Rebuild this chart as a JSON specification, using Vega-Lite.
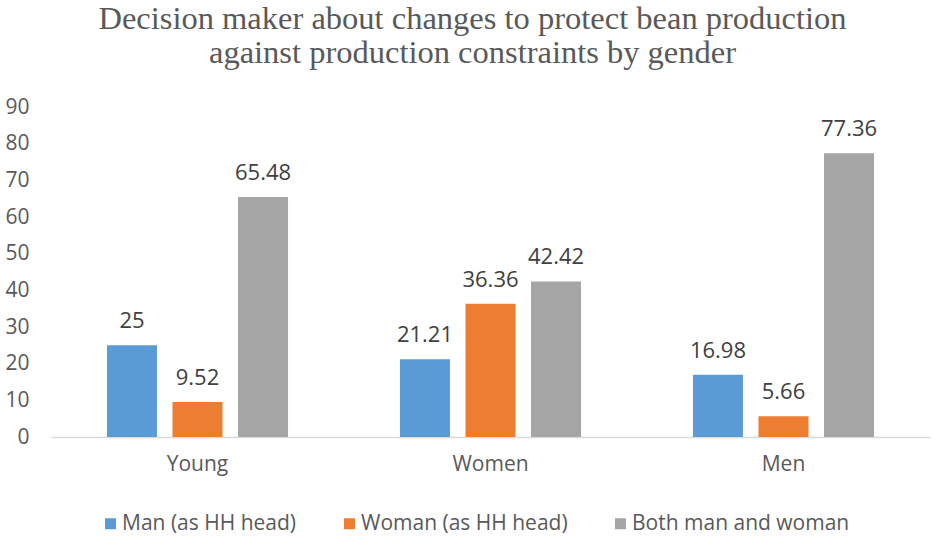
{
  "$schema": "https://vega.github.io/schema/vega-lite/v6.json",
  "autosize": {"type": "none"},
  "padding": {"left": 51, "top": 107, "right": 5, "bottom": 101},
  "width": 879,
  "height": 330,
  "background": "white",
  "title": {
    "text": ["Decision maker about changes to protect bean production", "against production constraints by gender"],
    "font": "Liberation Serif",
    "fontSize": 32.5,
    "fontWeight": "normal",
    "color": "#595959",
    "anchor": "middle",
    "dx": -18,
    "lineHeight": 34,
    "offset": 27
  },
  "data": {
    "values": [
      {"group": "Young", "series": "Man (as HH head)", "value": 25},
      {"group": "Young", "series": "Woman (as HH head)", "value": 9.52},
      {"group": "Young", "series": "Both man and woman", "value": 65.48},
      {"group": "Women", "series": "Man (as HH head)", "value": 21.21},
      {"group": "Women", "series": "Woman (as HH head)", "value": 36.36},
      {"group": "Women", "series": "Both man and woman", "value": 42.42},
      {"group": "Men", "series": "Man (as HH head)", "value": 16.98},
      {"group": "Men", "series": "Woman (as HH head)", "value": 5.66},
      {"group": "Men", "series": "Both man and woman", "value": 77.36}
    ]
  },
  "encoding": {
    "x": {
      "field": "group",
      "type": "nominal",
      "sort": ["Young", "Women", "Men"],
      "scale": {"paddingInner": 0.382, "paddingOuter": 0.191},
      "axis": {
        "title": null,
        "labelAngle": 0,
        "ticks": false,
        "domainColor": "#D9D9D9",
        "domainWidth": 1.5,
        "labelFont": "Open Sans",
        "labelFontSize": 21,
        "labelColor": "#595959",
        "labelPadding": 16
      }
    },
    "xOffset": {
      "field": "series",
      "type": "nominal",
      "sort": ["Man (as HH head)", "Woman (as HH head)", "Both man and woman"],
      "scale": {"paddingInner": 0.237, "paddingOuter": 0}
    },
    "y": {
      "field": "value",
      "type": "quantitative",
      "scale": {"domain": [0, 90], "nice": false},
      "axis": {
        "title": null,
        "values": [0, 10, 20, 30, 40, 50, 60, 70, 80, 90],
        "grid": false,
        "domain": false,
        "ticks": false,
        "labelPadding": 22,
        "labelFont": "Open Sans",
        "labelFontSize": 21,
        "labelColor": "#595959"
      }
    }
  },
  "layer": [
    {
      "mark": {"type": "bar"},
      "encoding": {
        "color": {
          "field": "series",
          "type": "nominal",
          "sort": ["Man (as HH head)", "Woman (as HH head)", "Both man and woman"],
          "scale": {
            "domain": ["Man (as HH head)", "Woman (as HH head)", "Both man and woman"],
            "range": ["#5B9BD5", "#ED7D31", "#A5A5A5"]
          },
          "legend": {
            "title": null,
            "orient": "none",
            "legendX": 49,
            "legendY": 406,
            "direction": "horizontal",
            "columnPadding": 42,
            "labelOffset": 1,
            "symbolType": "square",
            "symbolSize": 121,
            "symbolStrokeWidth": 0,
            "labelFont": "Open Sans",
            "labelFontSize": 21,
            "labelColor": "#595959",
            "labelLimit": 400
          }
        }
      }
    },
    {
      "mark": {
        "type": "text",
        "baseline": "alphabetic",
        "dy": -17,
        "font": "Open Sans",
        "fontSize": 22,
        "color": "#404040"
      },
      "encoding": {
        "text": {"field": "value", "type": "quantitative"}
      }
    }
  ],
  "config": {
    "view": {"stroke": null}
  }
}
